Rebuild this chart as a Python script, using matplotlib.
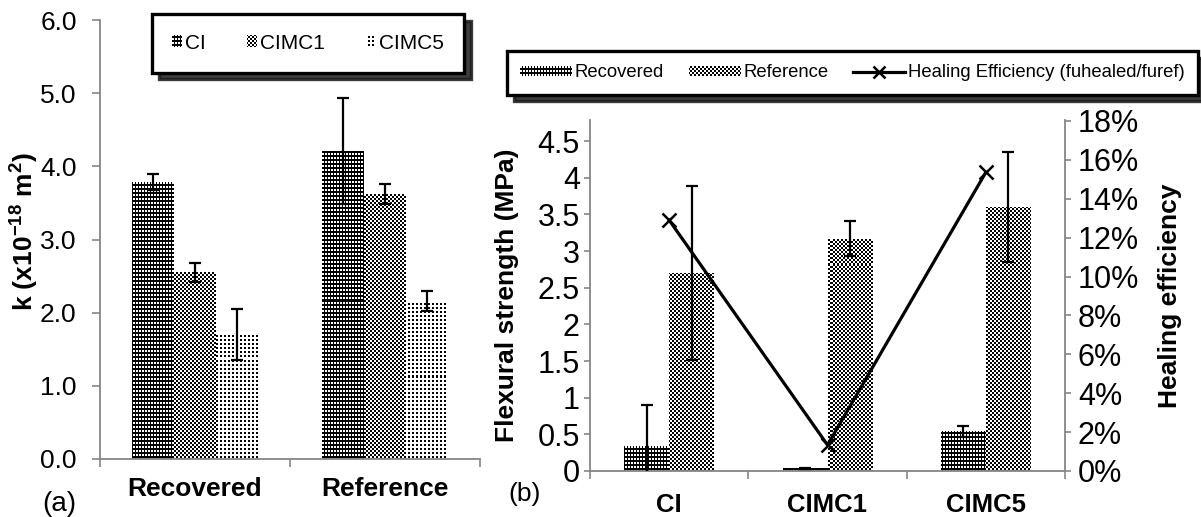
import numpy as np
import matplotlib
matplotlib.use("Agg")
import matplotlib.pyplot as plt
from matplotlib.patches import Patch
from matplotlib.lines import Line2D
from matplotlib.ticker import FixedLocator, FuncFormatter

# ---------------- data ----------------
perm_groups = ["Recovered", "Reference"]
perm_series = ["CI", "CIMC1", "CIMC5"]
perm_CI = [3.78, 4.21]
perm_CIMC1 = [2.55, 3.62]
perm_CIMC5 = [1.70, 2.16]
perm_CI_err = [0.11, 0.72]
perm_CIMC1_err = [0.13, 0.14]
perm_CIMC5_err = [0.35, 0.14]
perm_yticks = [0, 1, 2, 3, 4, 5, 6]

flex_categories = ["CI", "CIMC1", "CIMC5"]
flex_recovered = [0.34, 0.037, 0.54]
flex_recovered_err = [0.56, 0.01, 0.08]
flex_reference = [2.70, 3.17, 3.60]
flex_reference_err = [1.19, 0.24, 0.75]
healing_eff = [0.129, 0.0134, 0.1536]
flex_yticks = [0, 0.5, 1, 1.5, 2, 2.5, 3, 3.5, 4, 4.5]
eff_yticks = [0, 0.02, 0.04, 0.06, 0.08, 0.10, 0.12, 0.14, 0.16, 0.18]
flex_legend = ["Recovered", "Reference", "Healing Efficiency (fuhealed/furef)"]

# ---------------- style ----------------
plt.rcParams["font.family"] = ["Liberation Sans", "DejaVu Sans"]
plt.rcParams["mathtext.default"] = "regular"
GRAY = "#868686"

W, H = 1201, 517
fig = plt.figure(figsize=(W / 100, H / 100), dpi=100)


def fpos(x0, y0, x1, y1):
    return [x0 / W, 1 - y1 / H, (x1 - x0) / W, (y1 - y0) / H]


# pixel textures (1 = white, 0 = black), defined on absolute pixel grid
def pat_dense(X, Y):
    return ((X % 3 != 0) & (Y % 4 >= 2)).astype(float)


def pat_checker(X, Y):
    return (((X // 2) + (Y // 2)) % 2).astype(float)


def pat_dots(X, Y):
    return (~((X % 4 < 2) & (Y % 4 < 2))).astype(float)


def texture_bars(ax, bars, patfunc, zorder=2):
    pos = ax.get_position()
    px0 = int(round(pos.x0 * W))
    ptop = int(round((1 - pos.y1) * H))
    wi = int(round(pos.width * W))
    hi = int(round(pos.height * H))
    X, Y = np.meshgrid(np.arange(wi) + px0, np.arange(hi) + ptop)
    arr = patfunc(X, Y)
    xl, yl = ax.get_xlim(), ax.get_ylim()
    for b in bars:
        im = ax.imshow(arr, cmap="gray", vmin=0, vmax=1, origin="upper",
                       extent=(xl[0], xl[1], yl[0], yl[1]),
                       interpolation="nearest", aspect="auto", zorder=zorder)
        im.set_clip_path(b)
    ax.set_xlim(xl)
    ax.set_ylim(yl)


def style_spines(ax, visible):
    for s in ["left", "right", "top", "bottom"]:
        ax.spines[s].set_visible(s in visible)
        ax.spines[s].set_color(GRAY)
        ax.spines[s].set_linewidth(1.3)


# ================= (a) permeability =================
axA = fig.add_axes(fpos(100, 20, 480, 459))
xa = np.arange(len(perm_groups))
wa = 0.221
errkw = dict(fmt="none", ecolor="black", elinewidth=1.6, capsize=4.6, capthick=1.6, zorder=4)
series_a = [(perm_CI, perm_CI_err, pat_dense),
            (perm_CIMC1, perm_CIMC1_err, pat_checker),
            (perm_CIMC5, perm_CIMC5_err, pat_dots)]
axA.set_xlim(-0.5, 1.5)
axA.set_ylim(0, 6)
bars_a = []
for i, (vals, errs, pf) in enumerate(series_a):
    xs = xa + (i - 1) * wa
    b = axA.bar(xs, vals, width=wa, facecolor="none", edgecolor="none", zorder=2)
    bars_a.append((b, pf))
    axA.errorbar(xs, vals, yerr=errs, **errkw)
for b, pf in bars_a:
    texture_bars(axA, b.patches, pf)

style_spines(axA, ["left", "bottom"])
axA.yaxis.set_major_locator(FixedLocator(perm_yticks))
axA.yaxis.set_major_formatter(FuncFormatter(lambda v, p: f"{v:.1f}"))
axA.tick_params(axis="y", direction="out", length=5.8, width=1.2, color=GRAY,
                labelsize=19, pad=11)
axA.set_xticks(xa)
axA.set_xticklabels(perm_groups, fontsize=19, fontweight="bold")
axA.set_xticks([-0.5, 0.5, 1.5], minor=True)
axA.tick_params(axis="x", which="major", length=0, pad=13)
axA.tick_params(axis="x", which="minor", direction="out", length=5.8, width=1.2, color=GRAY)
axA.set_ylabel("k (x10$^{-18}$ m$^{2}$)", fontsize=19, fontweight="bold", va="center")
axA.yaxis.set_label_coords(-0.197, 0.517)

leg_a_handles = [Patch(facecolor="#555555", edgecolor="none", label=s) for s in perm_series]
legA = fig.legend(handles=leg_a_handles, loc="upper left",
                  bbox_to_anchor=(152 / W, 1 - 14 / H, 312 / W, 0.0001),
                  bbox_transform=fig.transFigure, mode="expand", ncol=3,
                  fontsize=15, handlelength=0.48, handleheight=0.48,
                  handletextpad=0.15, borderpad=0.95, borderaxespad=0,
                  fancybox=False, framealpha=1,
                  shadow={"ox": 5, "oy": -5, "color": "#1a1a1a", "alpha": 0.85})
legA.get_frame().set_linewidth(2.4)
legA.get_frame().set_edgecolor("black")

# ================= (b) flexural strength =================
axB = fig.add_axes(fpos(590, 120, 1065, 471))
xb = np.arange(len(flex_categories))
wb = 0.284
axB.set_xlim(-0.5, 2.5)
axB.set_ylim(0, 4.787)
b_rec = axB.bar(xb - wb / 2, flex_recovered, width=wb, facecolor="none", edgecolor="none", zorder=2)
b_ref = axB.bar(xb + wb / 2, flex_reference, width=wb, facecolor="none", edgecolor="none", zorder=2)
axB.errorbar(xb - wb / 2, flex_recovered, yerr=flex_recovered_err, **errkw)
axB.errorbar(xb + wb / 2, flex_reference, yerr=flex_reference_err, **errkw)
texture_bars(axB, b_rec.patches, pat_dense)
texture_bars(axB, b_ref.patches, pat_checker)

style_spines(axB, ["left", "bottom"])
axB.yaxis.set_major_locator(FixedLocator(flex_yticks))
axB.yaxis.set_major_formatter(FuncFormatter(lambda v, p: f"{v:g}"))
axB.tick_params(axis="y", direction="out", length=4.3, width=1.2, color=GRAY,
                labelsize=22, pad=3)
axB.set_xticks(xb)
axB.set_xticklabels(flex_categories, fontsize=18.5, fontweight="bold")
axB.set_xticks([-0.5, 0.5, 1.5, 2.5], minor=True)
axB.tick_params(axis="x", which="major", length=0, pad=16)
axB.tick_params(axis="x", which="minor", direction="out", length=5.8, width=1.2, color=GRAY)
axB.set_ylabel("Flexural strength (MPa)", fontsize=19, fontweight="bold", va="center")
axB.yaxis.set_label_coords((507 - 590) / 475, 0.501)

ax2 = axB.twinx()
ax2.set_ylim(0, 0.1805)
style_spines(ax2, ["right"])
ax2.plot(xb, healing_eff, color="black", lw=2.3, marker="x", ms=10, mew=1.8,
         zorder=5, label=flex_legend[2])
ax2.yaxis.set_major_locator(FixedLocator(eff_yticks))
ax2.yaxis.set_major_formatter(FuncFormatter(lambda v, p: f"{v * 100:.0f}%"))
ax2.tick_params(axis="y", direction="out", length=4.3, width=1.2, color=GRAY,
                labelsize=22, pad=5)
ax2.set_ylabel("Healing efficiency", fontsize=19, fontweight="bold", va="center")
ax2.yaxis.set_label_coords((1170 - 590) / 475, 0.5)

leg_b_handles = [Patch(facecolor="#444444", edgecolor="none", label=flex_legend[0]),
                 Patch(facecolor="#888888", edgecolor="none", label=flex_legend[1]),
                 Line2D([], [], color="black", lw=2.3, marker="x", ms=9, mew=1.8,
                        label=flex_legend[2])]
legB = fig.legend(handles=leg_b_handles, loc="upper left",
                  bbox_to_anchor=(507 / W, 1 - 51 / H, 691 / W, 0.0001),
                  bbox_transform=fig.transFigure, mode="expand", ncol=3,
                  fontsize=13.3, handlelength=2.8, handleheight=0.43,
                  handletextpad=0.16, borderpad=0.72, borderaxespad=0,
                  fancybox=False, framealpha=1,
                  shadow={"ox": 5, "oy": -5, "color": "#1a1a1a", "alpha": 0.85})
legB.get_frame().set_linewidth(2.4)
legB.get_frame().set_edgecolor("black")

fig.text(42 / W, 1 - 504 / H, "(a)", fontsize=20, ha="left", va="center")
fig.text(508 / W, 1 - 494 / H, "(b)", fontsize=19, ha="left", va="center")

# overlay textures onto the legend patch handles
fig.canvas.draw()
renderer = fig.canvas.get_renderer()
for leg, pats in [(legA, [pat_dense, pat_checker, pat_dots]),
                  (legB, [pat_dense, pat_checker, None])]:
    for h, pf in zip(leg.legend_handles, pats):
        if pf is None:
            continue
        bb = h.get_window_extent(renderer)
        x0, y0 = int(round(bb.x0)), int(round(bb.y0))
        wi, hi = int(round(bb.width)), int(round(bb.height))
        ytop = H - (y0 + hi)
        X, Y = np.meshgrid(np.arange(wi) + x0, np.arange(hi) + ytop)
        fig.figimage(pf(X, Y), xo=x0, yo=y0, cmap="gray", vmin=0, vmax=1,
                     origin="upper", zorder=20)

fig.savefig("out.png", dpi=100)
